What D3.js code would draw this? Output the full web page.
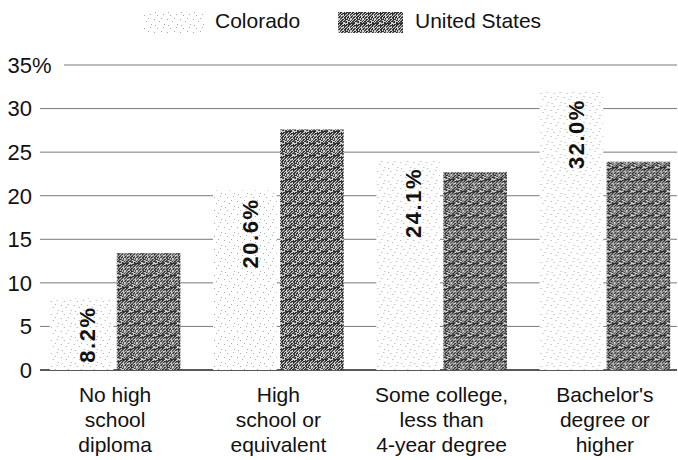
<!DOCTYPE html>
<html>
<head>
<meta charset="utf-8">
<script src="https://cdn.jsdelivr.net/npm/d3@7"></script>
<style>
  html, body { margin: 0; padding: 0; background: #fff; }
  svg { display: block; }
  text { font-family: "Liberation Sans", Arial, Helvetica, sans-serif; fill: #111; }
</style>
</head>
<body>
<svg id="chart" width="678" height="460"></svg>
<script>
// Educational attainment, share of adults (%)
const categories = [
  ["No high", "school", "diploma"],
  ["High", "school or", "equivalent"],
  ["Some college,", "less than", "4-year degree"],
  ["Bachelor's", "degree or", "higher"]
];
const seriesNames = ["Colorado", "United States"];
const colorado = [8.2, 20.6, 24.1, 32.0];
const unitedStates = [13.4, 27.6, 22.7, 23.9];
const yTicks = [0, 5, 10, 15, 20, 25, 30, 35];

const svg = d3.select("#chart");

// Fill textures: a sparse stipple for Colorado, a dense grey weave for the U.S.
const defs = svg.append("defs");
const stip = defs.append("pattern")
  .attr("id", "stipple").attr("patternUnits", "userSpaceOnUse")
  .attr("width", 13).attr("height", 13);
stip.append("rect").attr("width", 13).attr("height", 13).attr("fill", "#ffffff");
[[1, 2], [7, 1], [11, 6], [3, 8], [8, 11], [5, 5], [12, 12]].forEach(([x, y]) =>
  stip.append("rect").attr("x", x).attr("y", y).attr("width", 1).attr("height", 1).attr("fill", "#a8a8a8"));

// weave tile: diagonal streaks broken up by a fixed speckle layout
const T = 12;
const weave = defs.append("pattern")
  .attr("id", "weave").attr("patternUnits", "userSpaceOnUse")
  .attr("width", T).attr("height", T);
weave.append("rect").attr("width", T).attr("height", T).attr("fill", "#d0d0d0");
for (let yy = 0; yy < T; yy++) {
  for (let xx = 0; xx < T; xx++) {
    const h = ((xx * 73856093) ^ (yy * 19349663)) >>> 0;
    const onStreak = ((xx + yy) % 3) !== 0;
    const dark = onStreak ? (h % 7) !== 0 : (h % 5) === 0;
    if (dark) {
      weave.append("rect").attr("x", xx).attr("y", yy)
        .attr("width", 1).attr("height", 1)
        .attr("fill", (h % 3) === 0 ? "#555" : "#2e2e2e");
    }
  }
}

const fills = ["url(#stipple)", "url(#weave)"];

// Scales
const x0 = d3.scaleBand().domain(d3.range(categories.length))
  .range([40, 680]).paddingInner(0.2).paddingOuter(0.06);
const x1 = d3.scaleBand().domain(d3.range(seriesNames.length))
  .range([0, x0.bandwidth()]).paddingInner(0.05);
const y = d3.scaleLinear().domain([0, 35]).range([370, 65]);

// Gridlines and tick labels
const tickFont = 22;
const axisG = svg.append("g");
yTicks.forEach(t => {
  const yy = y(t);
  axisG.append("text")
    .attr("x", 32).attr("y", yy).attr("dy", "0.36em")
    .attr("text-anchor", "end")
    .style("font-size", tickFont + "px")
    .text(t);
  let lineStart = 40;
  if (t === 35) {
    axisG.append("text")
      .attr("x", 32).attr("y", yy).attr("dy", "0.36em")
      .style("font-size", tickFont + "px")
      .text("%");
    lineStart = 64;
  }
  axisG.append("line")
    .attr("x1", lineStart).attr("x2", 677)
    .attr("y1", yy).attr("y2", yy)
    .attr("stroke", t === 0 ? "#222" : "#7a7a7a")
    .attr("stroke-width", t === 0 ? 1.3 : 1);
});

// Bars
const values = [colorado, unitedStates];
const groups = svg.append("g").selectAll("g")
  .data(categories.map((c, i) => i))
  .join("g")
  .attr("transform", i => `translate(${x0(i)},0)`);

groups.selectAll("rect")
  .data(i => values.map((v, s) => ({ s, v: v[i] })))
  .join("rect")
  .attr("x", d => x1(d.s))
  .attr("width", x1.bandwidth())
  .attr("y", d => y(d.v))
  .attr("height", d => y(0) - y(d.v))
  .attr("fill", d => fills[d.s]);

// Value labels, rotated, inside the Colorado bars
groups.append("text")
  .attr("transform", i => `translate(${x1(0) + x1.bandwidth() / 2 + 5},${y(colorado[i]) + 8}) rotate(-90)`)
  .attr("text-anchor", "end")
  .attr("dy", "0.36em")
  .style("font-size", "22px")
  .style("font-weight", "bold")
  .style("letter-spacing", "1.5px")
  .attr("fill", "#1a1a1a")
  .text(i => colorado[i].toFixed(1) + "%");

// Category labels
const catG = svg.append("g");
categories.forEach((lines, i) => {
  const cx = x0(i) + x0.bandwidth() / 2;
  const t = catG.append("text")
    .attr("x", cx)
    .attr("text-anchor", "middle")
    .style("font-size", "21px");
  lines.forEach((ln, k) => {
    t.append("tspan")
      .attr("x", cx)
      .attr("y", 402 + k * 25)
      .text(ln);
  });
});

// Legend
const legend = svg.append("g");
const legendItems = [
  { x: 143, w: 62, tx: 215 },
  { x: 338, w: 65, tx: 415 }
];
legendItems.forEach((it, s) => {
  legend.append("rect")
    .attr("x", it.x).attr("y", 12).attr("width", it.w).attr("height", 21)
    .attr("fill", fills[s]);
  legend.append("text")
    .attr("x", it.tx).attr("y", 28)
    .style("font-size", "21px")
    .text(seriesNames[s]);
});
</script>
</body>
</html>
